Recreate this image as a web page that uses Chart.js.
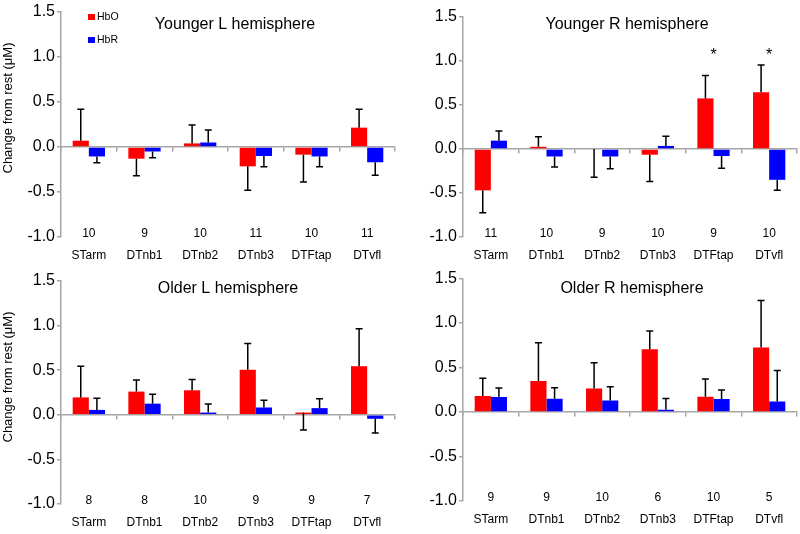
<!DOCTYPE html>
<html>
<head>
<meta charset="utf-8">
<script src="https://cdn.jsdelivr.net/npm/chart.js@4.4.0/dist/chart.umd.min.js"></script>
<style>
    body { margin: 0; background: #fff; width: 800px; height: 534px; position: relative; overflow: hidden; }
    .panel { position: absolute; width: 400px; height: 267px; }
</style>
</head>
<body>
<div class="panel" style="left:0;top:0"><canvas id="youngL" width="400" height="267"></canvas></div>
<div class="panel" style="left:400px;top:0"><canvas id="youngR" width="400" height="267"></canvas></div>
<div class="panel" style="left:0;top:267px"><canvas id="oldL" width="400" height="267"></canvas></div>
<div class="panel" style="left:400px;top:267px"><canvas id="oldR" width="400" height="267"></canvas></div>
<script>
const categories = ["STarm", "DTnb1", "DTnb2", "DTnb3", "DTFtap", "DTvfl"];
const seriesNames = ["HbO", "HbR"];
const yTickValues = [-1.0, -0.5, 0.0, 0.5, 1.0, 1.5];
const yTitle = "Change from rest (\u03bcM)";

// error arrays are signed: + means the whisker goes up, - means down
const youngLTitle = "Younger L hemisphere";
const youngLN = [10, 9, 10, 11, 10, 11];
const youngLHbO = [0.07, -0.13, 0.04, -0.215, -0.085, 0.215];
const youngLHbOErr = [0.35, -0.19, 0.205, -0.265, -0.305, 0.205];
const youngLHbR = [-0.105, -0.05, 0.05, -0.1, -0.105, -0.17];
const youngLHbRErr = [-0.07, -0.07, 0.14, -0.12, -0.115, -0.145];
const youngLStars = [];

const youngRTitle = "Younger R hemisphere";
const youngRN = [11, 10, 9, 10, 9, 10];
const youngRHbO = [-0.47, 0.025, 0, -0.065, 0.575, 0.645];
const youngRHbOErr = [-0.255, 0.115, -0.32, -0.305, 0.26, 0.31];
const youngRHbR = [0.095, -0.085, -0.085, 0.035, -0.08, -0.35];
const youngRHbRErr = [0.11, -0.12, -0.14, 0.11, -0.14, -0.12];
const youngRStars = ["DTFtap", "DTvfl"];

const oldLTitle = "Older L hemisphere";
const oldLN = [8, 8, 10, 9, 9, 7];
const oldLHbO = [0.195, 0.26, 0.275, 0.505, 0.025, 0.545];
const oldLHbOErr = [0.35, 0.13, 0.12, 0.295, -0.195, 0.42];
const oldLHbR = [0.055, 0.125, 0.025, 0.082, 0.075, -0.045];
const oldLHbRErr = [0.13, 0.105, 0.095, 0.082, 0.105, -0.16];
const oldLStars = [];

const oldRTitle = "Older R hemisphere";
const oldRN = [9, 9, 10, 6, 10, 5];
const oldRHbO = [0.18, 0.35, 0.265, 0.705, 0.172, 0.725];
const oldRHbOErr = [0.2, 0.43, 0.29, 0.205, 0.2, 0.53];
const oldRHbR = [0.17, 0.15, 0.13, 0.026, 0.147, 0.118];
const oldRHbRErr = [0.1, 0.123, 0.155, 0.125, 0.1, 0.35];
const oldRStars = [];

const colors = ["#ff0000", "#0000ff"];
const axisGray = "#a6a6a6";
const fontFamily = "'Liberation Sans', Arial, sans-serif";

// draws title, error bars, n counts, stars, y title and legend on top of the bars
function decor(p) {
    return {
        id: "decor",
        afterDatasetsDraw(chart) {
            const ctx = chart.ctx;
            const ys = chart.scales.y;
            const xs = chart.scales.x;
            const left = ys.right;
            const right = xs.right;
            const top = ys.top;
            const bottom = ys.bottom;
            ctx.save();

            // error whiskers
            ctx.strokeStyle = "#000";
            ctx.lineWidth = 1.5;
            chart.data.datasets.forEach((ds, di) => {
                const meta = chart.getDatasetMeta(di);
                meta.data.forEach((bar, i) => {
                    const y0 = ys.getPixelForValue(ds.data[i]);
                    const y1 = ys.getPixelForValue(ds.data[i] + ds.errors[i]);
                    ctx.beginPath();
                    ctx.moveTo(bar.x, y0);
                    ctx.lineTo(bar.x, y1);
                    ctx.moveTo(bar.x - 3.5, y1);
                    ctx.lineTo(bar.x + 3.5, y1);
                    ctx.stroke();
                });
            });

            ctx.fillStyle = "#000";
            ctx.textAlign = "center";

            // panel title
            ctx.font = "16px " + fontFamily;
            ctx.textBaseline = "middle";
            ctx.fillText(p.title, (left + right) / 2 + p.titleShift, ys.getPixelForValue(p.titleAt));

            // group sizes just above the bottom of the plot
            ctx.font = "12px " + fontFamily;
            p.n.forEach((n, i) => {
                ctx.fillText(String(n), xs.getPixelForValue(i), bottom - 3);
            });

            // significance stars
            ctx.font = "16px " + fontFamily;
            ctx.textBaseline = "alphabetic";
            p.stars.forEach(c => {
                ctx.fillText("*", xs.getPixelForValue(categories.indexOf(c)), ys.getPixelForValue(1.1) + 8);
            });

            // y axis title
            if (p.yTitle) {
                ctx.save();
                ctx.translate(8, top + 96);
                ctx.rotate(-Math.PI / 2);
                ctx.font = "13px " + fontFamily;
                ctx.textBaseline = "middle";
                ctx.fillText(yTitle, 0, 0);
                ctx.restore();
            }

            // legend
            if (p.legend) {
                ctx.font = "10.5px " + fontFamily;
                ctx.textAlign = "left";
                ctx.textBaseline = "middle";
                seriesNames.forEach((name, i) => {
                    const ly = top + 5 + i * 23;
                    ctx.fillStyle = colors[i];
                    ctx.fillRect(left + 27, ly - 3, 7, 6);
                    ctx.fillStyle = "#000";
                    ctx.fillText(name, left + 36, ly);
                });
            }
            ctx.restore();
        }
    };
}

function makePanel(canvasId, p) {
    new Chart(document.getElementById(canvasId), {
        type: "bar",
        data: {
            labels: categories,
            datasets: [
                { label: seriesNames[0], data: p.hbo, errors: p.hboErr, backgroundColor: colors[0] },
                { label: seriesNames[1], data: p.hbr, errors: p.hbrErr, backgroundColor: colors[1] }
            ]
        },
        options: {
            responsive: false,
            animation: false,
            events: [],
            categoryPercentage: 0.58,
            barPercentage: 1.0,
            layout: { padding: { left: 0, top: p.padTop, right: p.padRight, bottom: 0 } },
            plugins: {
                legend: { display: false },
                tooltip: { enabled: false }
            },
            scales: {
                x: {
                    type: "category",
                    position: "bottom",
                    grid: { display: false, drawTicks: false, tickLength: 0 },
                    border: { display: false },
                    afterFit: s => { s.height = p.xHeight; },
                    ticks: {
                        autoSkip: false,
                        maxRotation: 0,
                        minRotation: 0,
                        padding: 11,
                        color: "#000",
                        font: { family: fontFamily, size: 12, lineHeight: 1.2 }
                    }
                },
                x2: {
                    type: "category",
                    position: { y: 0 },
                    offset: true,
                    afterFit: s => { s.height = 0; },
                    grid: { offset: true, drawOnChartArea: false, drawTicks: true, tickLength: 4, color: axisGray, lineWidth: 1.5 },
                    border: { display: true, color: axisGray, width: 1.5 },
                    ticks: { display: false }
                },
                y: {
                    min: -1.0,
                    max: 1.5,
                    afterFit: s => { s.width = p.yWidth; },
                    afterBuildTicks: s => { s.ticks = yTickValues.map(v => ({ value: v })); },
                    grid: { drawOnChartArea: false, drawTicks: true, tickLength: 4, color: axisGray, lineWidth: 1.5 },
                    border: { display: true, color: axisGray, width: 1.5 },
                    ticks: {
                        padding: 2,
                        color: "#000",
                        font: { family: fontFamily, size: 16 },
                        callback: v => v.toFixed(1)
                    }
                }
            }
        },
        plugins: [decor(p)]
    });
}

makePanel("youngL", {
    title: youngLTitle, n: youngLN, hbo: youngLHbO, hboErr: youngLHbOErr, hbr: youngLHbR, hbrErr: youngLHbRErr,
    stars: youngLStars, yTitle: true, legend: true, titleAt: 1.36, titleShift: 7,
    padTop: 12, padRight: 5, yWidth: 61, xHeight: 30
});
makePanel("youngR", {
    title: youngRTitle, n: youngRN, hbo: youngRHbO, hboErr: youngRHbOErr, hbr: youngRHbR, hbrErr: youngRHbRErr,
    stars: youngRStars, yTitle: false, legend: false, titleAt: 1.41, titleShift: -3,
    padTop: 17, padRight: 3, yWidth: 63, xHeight: 30
});
makePanel("oldL", {
    title: oldLTitle, n: oldLN, hbo: oldLHbO, hboErr: oldLHbOErr, hbr: oldLHbR, hbrErr: oldLHbRErr,
    stars: oldLStars, yTitle: true, legend: false, titleAt: 1.41, titleShift: 0,
    padTop: 14, padRight: 5, yWidth: 61, xHeight: 30
});
makePanel("oldR", {
    title: oldRTitle, n: oldRN, hbo: oldRHbO, hboErr: oldRHbOErr, hbr: oldRHbR, hbrErr: oldRHbRErr,
    stars: oldRStars, yTitle: false, legend: false, titleAt: 1.39, titleShift: 2,
    padTop: 8, padRight: 3, yWidth: 63, xHeight: 33
});
</script>
</body>
</html>
